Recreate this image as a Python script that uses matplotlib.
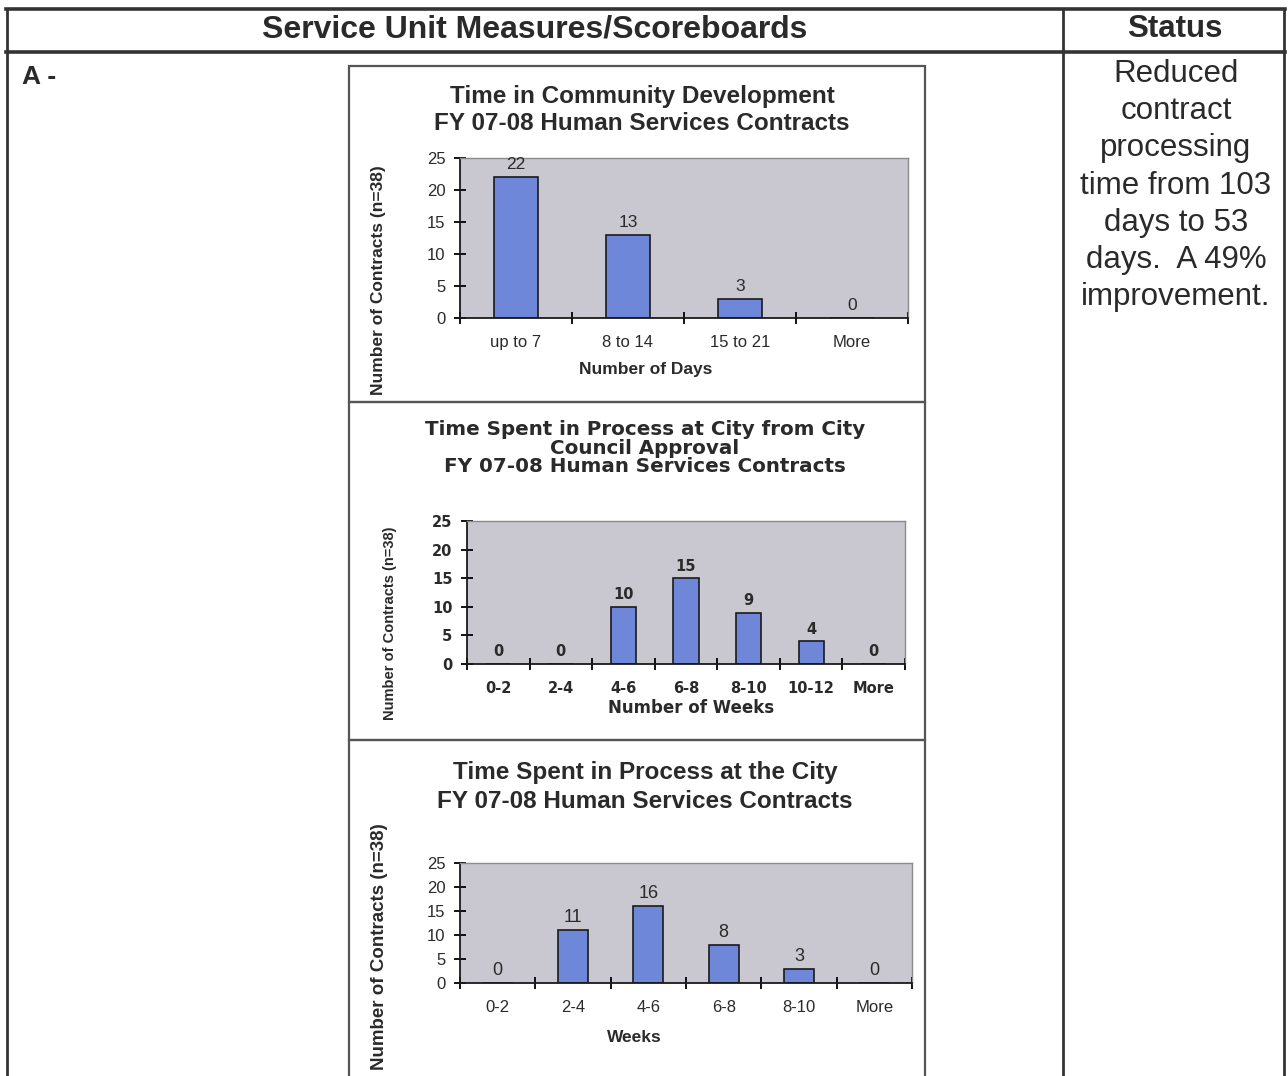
import matplotlib
matplotlib.use("Agg")
import matplotlib.pyplot as plt
from matplotlib.patches import Rectangle
from matplotlib.lines import Line2D

W, H = 1288, 1076

# ---- data ----
header_left = "Service Unit Measures/Scoreboards"
header_right = "Status"
row_label = "A -"
status_text = "Reduced\ncontract\nprocessing\ntime from 103\ndays to 53\ndays.  A 49%\nimprovement."

c1_title = "Time in Community Development\nFY 07-08 Human Services Contracts"
c1_cats = ["up to 7", "8 to 14", "15 to 21", "More"]
c1_vals = [22, 13, 3, 0]
c1_xlabel = "Number of Days"

c2_title = "Time Spent in Process at City from City\nCouncil Approval\nFY 07-08 Human Services Contracts"
c2_cats = ["0-2", "2-4", "4-6", "6-8", "8-10", "10-12", "More"]
c2_vals = [0, 0, 10, 15, 9, 4, 0]
c2_xlabel = "Number of Weeks"

c3_title = "Time Spent in Process at the City\nFY 07-08 Human Services Contracts"
c3_cats = ["0-2", "2-4", "4-6", "6-8", "8-10", "More"]
c3_vals = [0, 11, 16, 8, 3, 0]
c3_xlabel = "Weeks"

ylabel = "Number of Contracts (n=38)"
yticks = [0, 5, 10, 15, 20, 25]

BAR = "#6f87d8"
PLOT_BG = "#c9c7cf"
TXT = "#2a2a2a"
SANS = ["Liberation Sans", "DejaVu Sans"]
WIDE = ["DejaVu Sans"]


def fx(x):
    return x / W


def fy(y):
    return 1 - y / H


def add_axes(fig, left, top, right, bottom):
    return fig.add_axes([fx(left), fy(bottom), (right - left) / W, (bottom - top) / H])


def bar_chart(fig, box, cats, vals, family, tick_fs, lab_fs, weight="normal"):
    ax = add_axes(fig, *box)
    ax.set_facecolor(PLOT_BG)
    x = list(range(len(cats)))
    ax.bar(x, vals, width=0.4, color=BAR, edgecolor="#1a1a1a", linewidth=1.2, zorder=2)
    for xi, v in zip(x, vals):
        ax.text(xi, v + 0.8, str(v), ha="center", va="bottom", fontsize=lab_fs,
                family=family, fontweight=weight, color=TXT, zorder=3)
    ax.set_xlim(-0.5, len(cats) - 0.5)
    ax.set_ylim(0, 25)
    ax.set_yticks(yticks)
    ax.set_xticks([i - 0.5 for i in range(len(cats) + 1)], minor=False)
    ax.set_xticklabels([])
    ax.set_xticks(x, minor=True)
    ax.set_xticklabels(cats, minor=True, fontsize=tick_fs, family=family,
                       fontweight=weight, color=TXT)
    ax.tick_params(axis="x", which="minor", length=0, pad=12)
    ax.tick_params(axis="x", which="major", direction="inout", length=9, width=1.3)
    ax.tick_params(axis="y", direction="inout", length=9, width=1.3, pad=6)
    for lbl in ax.get_yticklabels():
        lbl.set_fontsize(tick_fs)
        lbl.set_family(family)
        lbl.set_fontweight(weight)
        lbl.set_color(TXT)
    for s in ["left", "bottom"]:
        ax.spines[s].set_color("#1a1a1a")
        ax.spines[s].set_linewidth(1.3)
    for s in ["top", "right"]:
        ax.spines[s].set_color("#8c8c8c")
        ax.spines[s].set_linewidth(1.0)
    return ax


fig = plt.figure(figsize=(W / 100, H / 100), dpi=100)
fig.patch.set_facecolor("white")

# ---- table lines ----
def hline(x0, x1, y, lw):
    fig.add_artist(Line2D([fx(x0), fx(x1)], [fy(y), fy(y)], color="#333333", lw=lw))


def vline(x, y0, y1, lw):
    fig.add_artist(Line2D([fx(x), fx(x)], [fy(y0), fy(y1)], color="#333333", lw=lw))


hline(6, 1285, 9, 2.6)
hline(6, 1285, 52, 2.6)
vline(7, 9, 1076, 2.0)
vline(1063, 9, 1076, 2.0)
vline(1284, 9, 1076, 2.0)

fig.text(fx(535), fy(30), header_left, ha="center", va="center", fontsize=23,
         fontweight="bold", family=SANS, color=TXT)
fig.text(fx(1175), fy(29), header_right, ha="center", va="center", fontsize=22.5,
         fontweight="bold", family=SANS, color=TXT)
fig.text(fx(22), fy(77), row_label, ha="left", va="center", fontsize=19,
         fontweight="bold", family=SANS, color=TXT)
fig.text(fx(1176), fy(59), status_text, ha="center", va="top", fontsize=22.5,
         family=SANS, color=TXT, linespacing=1.315)

# ---- chart boxes ----
for top, bot in [(66, 402), (402, 740), (740, 1080)]:
    fig.add_artist(Rectangle((fx(349), fy(bot)), (925 - 349) / W, (bot - top) / H,
                             fill=False, edgecolor="#555555", lw=1.6))

# ---- chart 1 ----
bar_chart(fig, (460, 158, 908, 318), c1_cats, c1_vals, SANS, 12, 12.5)
fig.text(fx(642), fy(110), c1_title, ha="center", va="center", fontsize=17.5,
         fontweight="bold", family=SANS, color=TXT, linespacing=1.25)
fig.text(fx(646), fy(370), c1_xlabel, ha="center", va="center", fontsize=12.5,
         fontweight="bold", family=SANS, color=TXT)
fig.text(fx(378), fy(280), ylabel, ha="center", va="center", rotation=90, fontsize=12.5,
         fontweight="bold", family=SANS, color=TXT)

# ---- chart 2 ----
bar_chart(fig, (467, 521, 905, 664), c2_cats, c2_vals, WIDE, 10.5, 10.5, weight="bold")
fig.text(fx(645), fy(448), c2_title, ha="center", va="center", fontsize=14.3,
         fontweight="bold", family=WIDE, color=TXT, linespacing=0.97)
fig.text(fx(691), fy(708), c2_xlabel, ha="center", va="center", fontsize=12,
         fontweight="bold", family=WIDE, color=TXT)
fig.text(fx(390), fy(623), ylabel, ha="center", va="center", rotation=90, fontsize=10.5,
         fontweight="bold", family=SANS, color=TXT)

# ---- chart 3 ----
bar_chart(fig, (460, 863, 912, 983), c3_cats, c3_vals, SANS, 12, 13)
fig.text(fx(645), fy(787), c3_title, ha="center", va="center", fontsize=17.5,
         fontweight="bold", family=SANS, color=TXT, linespacing=1.3)
fig.text(fx(634), fy(1038), c3_xlabel, ha="center", va="center", fontsize=12.5,
         fontweight="bold", family=SANS, color=TXT)
fig.text(fx(380), fy(947), ylabel, ha="center", va="center", rotation=90, fontsize=13.5,
         fontweight="bold", family=SANS, color=TXT)

fig.savefig("out.png", dpi=100, facecolor="white")
